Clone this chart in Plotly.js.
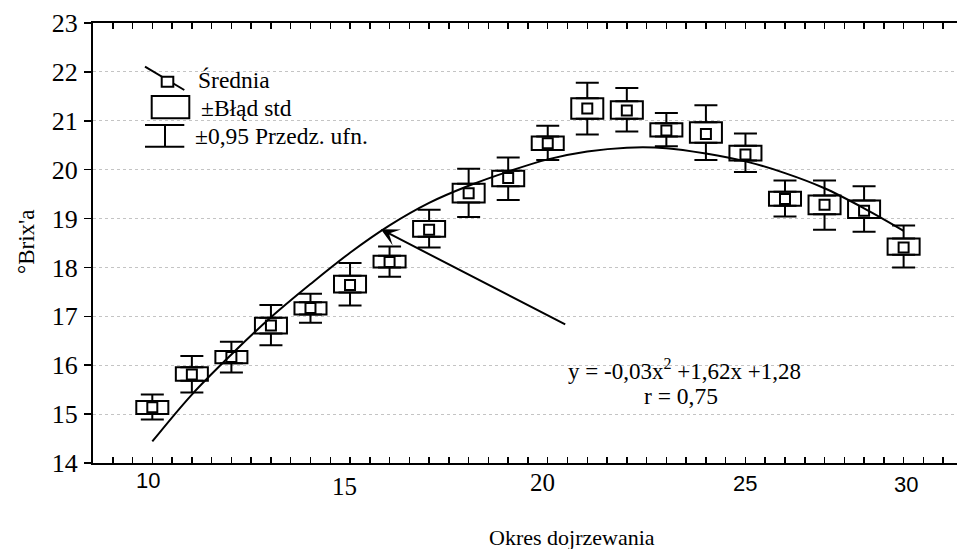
<!DOCTYPE html>
<html><head><meta charset="utf-8">
<script src="https://cdn.plot.ly/plotly-3.0.1.min.js"></script>
<style>body{margin:0;background:#fff}#chart{width:957px;height:549px}</style>
</head><body><div id="chart"></div>
<script>
// ---- data ----
const days    = [10,11,12,13,14,15,16,17,18,19,20,21,22,23,24,25,26,27,28,29];
const means   = [15.14,15.81,16.17,16.81,17.17,17.64,18.11,18.77,19.52,19.83,20.54,21.25,21.21,20.80,20.73,20.31,19.40,19.28,19.16,18.41];
const seUpper = [15.27,15.96,16.29,16.97,17.29,17.83,18.24,18.95,19.71,19.98,20.68,21.46,21.40,20.95,20.97,20.49,19.55,19.47,19.37,18.59];
const seLower = [15.00,15.68,16.04,16.65,17.04,17.49,18.00,18.63,19.33,19.66,20.40,21.04,21.04,20.68,20.55,20.19,19.26,19.09,19.01,18.26];
const ciUpper = [15.40,16.19,16.48,17.23,17.46,18.09,18.43,19.18,20.02,20.25,20.90,21.78,21.67,21.16,21.32,20.74,19.78,19.78,19.66,18.86];
const ciLower = [14.89,15.44,15.85,16.41,16.87,17.22,17.81,18.41,19.03,19.38,20.20,20.72,20.78,20.48,20.20,19.95,19.04,18.77,18.73,18.00];
const fitY    = [14.44,15.40,16.22,16.98,17.66,18.30,18.86,19.32,19.67,19.96,20.21,20.37,20.45,20.44,20.33,20.17,19.93,19.62,19.21,18.75];
const tickLabels = ['10','15','20','25','30'];
const legendLabels = ['Średnia','±Błąd std','±0,95 Przedz. ufn.'];
const equationText = 'y = -0,03x<sup>2</sup> +1,62x +1,28';
const rText = 'r = 0,75';
const xTitle = 'Okres dojrzewania';
const yTitle = '°Brix\'a';

// ---- layout helpers ----
const L = 93, T = 23, W = 864, H = 440;
const PX = p => (p - L) / W;
const PY = p => (T + H - p) / H;
const serif = 'Liberation Serif';
const sans = 'Liberation Sans';
const blk = '#000';

const boxH = seUpper.map((u, i) => u - seLower[i]);
const upArm = ciUpper.map((c, i) => c - seUpper[i]);
const loArm = seLower.map((s, i) => s - ciLower[i]);
const zeros = days.map(() => 0);

const traces = [
  {type:'bar', x:days, y:boxH, base:seLower, width:0.81,
   marker:{color:'#fff', line:{color:blk, width:2}}, hoverinfo:'skip', showlegend:false},
  {type:'scatter', mode:'markers', x:days, y:seUpper,
   marker:{size:1, color:'rgba(0,0,0,0)'},
   error_y:{type:'data', symmetric:false, array:upArm, arrayminus:zeros, color:blk, thickness:2, width:11.5},
   hoverinfo:'skip', showlegend:false},
  {type:'scatter', mode:'markers', x:days, y:seLower,
   marker:{size:1, color:'rgba(0,0,0,0)'},
   error_y:{type:'data', symmetric:false, array:zeros, arrayminus:loArm, color:blk, thickness:2, width:11.5},
   hoverinfo:'skip', showlegend:false},
  {type:'scatter', mode:'markers', x:days, y:means,
   marker:{symbol:'square-open', size:10, color:blk, line:{width:2, color:blk}},
   showlegend:false},
  {type:'scatter', mode:'lines', x:days, y:fitY,
   line:{color:blk, width:2, shape:'spline'}, hoverinfo:'skip', showlegend:false}
];

const tickPos = [9.9, 14.87, 19.88, 24.99, 29.06];
const tickPy  = [480, 486, 482.5, 483, 484];
const tickFont = [sans, serif, serif, sans, sans];
const tickSize = [22, 25, 25, 22, 22];

const annotations = [];
tickLabels.forEach((t, i) => annotations.push({
  xref:'x', yref:'paper', x:tickPos[i], y:PY(tickPy[i]), text:t, showarrow:false,
  xanchor:'center', yanchor:'middle', font:{family:tickFont[i], size:tickSize[i], color:blk}
}));
annotations.push(
  {xref:'paper', yref:'paper', x:PX(572), y:PY(537), text:xTitle, showarrow:false,
   xanchor:'center', yanchor:'middle', font:{family:serif, size:22, color:blk}},
  {xref:'paper', yref:'paper', x:PX(27), y:PY(242), text:yTitle, showarrow:false, textangle:-90,
   xanchor:'center', yanchor:'middle', font:{family:serif, size:23, color:blk}},
  {xref:'paper', yref:'paper', x:PX(684), y:PY(369), text:equationText, showarrow:false,
   xanchor:'center', yanchor:'middle', font:{family:serif, size:23, color:blk}},
  {xref:'paper', yref:'paper', x:PX(681), y:PY(396), text:rText, showarrow:false,
   xanchor:'center', yanchor:'middle', font:{family:serif, size:23.5, color:blk}},
  {xref:'x', yref:'y', x:15.78, y:18.78, axref:'x', ayref:'y', ax:20.48, ay:16.82,
   text:'', showarrow:true, arrowhead:3, arrowsize:1.5, arrowwidth:2, arrowcolor:blk, standoff:0},
  {xref:'paper', yref:'paper', x:PX(196), y:PY(80), text:legendLabels[0], showarrow:false,
   xanchor:'left', yanchor:'middle', font:{family:serif, size:23.5, color:blk}},
  {xref:'paper', yref:'paper', x:PX(199), y:PY(108), text:legendLabels[1], showarrow:false,
   xanchor:'left', yanchor:'middle', font:{family:serif, size:23.5, color:blk}},
  {xref:'paper', yref:'paper', x:PX(193), y:PY(136), text:legendLabels[2], showarrow:false,
   xanchor:'left', yanchor:'middle', font:{family:serif, size:23.5, color:blk}}
);

const ln = {color:blk, width:2};
const shapes = [
  {type:'line', xref:'paper', yref:'paper', x0:PX(145), y0:PY(66.7), x1:PX(184.3), y1:PY(90), line:ln},
  {type:'rect', xref:'paper', yref:'paper', x0:PX(161.7), y0:PY(76.7), x1:PX(173.3), y1:PY(86.7), line:ln, fillcolor:'#fff'},
  {type:'rect', xref:'paper', yref:'paper', x0:PX(151.7), y0:PY(96), x1:PX(189.3), y1:PY(118.3), line:ln, fillcolor:'#fff'},
  {type:'line', xref:'paper', yref:'paper', x0:PX(145), y0:PY(125), x1:PX(184.3), y1:PY(125), line:ln},
  {type:'line', xref:'paper', yref:'paper', x0:PX(145), y0:PY(146.7), x1:PX(184.3), y1:PY(146.7), line:ln},
  {type:'line', xref:'paper', yref:'paper', x0:PX(165), y0:PY(125), x1:PX(165), y1:PY(146.7), line:ln}
];

const layout = {
  width:957, height:549, margin:{l:L, r:0, t:T, b:549-T-H},
  paper_bgcolor:'#fff', plot_bgcolor:'#fff', showlegend:false, barmode:'overlay',
  xaxis:{range:[8.5, 30.35], showline:true, linewidth:2, linecolor:blk, mirror:'ticks',
         ticks:'inside', ticklen:6, tickwidth:1.5, tickcolor:blk, tick0:9, dtick:0.5,
         showticklabels:false, showgrid:false, zeroline:false},
  yaxis:{range:[14, 23], dtick:1, showline:true, linewidth:2, linecolor:blk, mirror:false,
         ticks:'outside', ticklen:7, tickwidth:1.5, tickcolor:blk, ticklabelstandoff:1,
         showgrid:true, gridcolor:'#c4c4c4', griddash:'dot', gridwidth:1, zeroline:false,
         tickfont:{family:serif, size:26, color:blk}},
  annotations, shapes
};
Plotly.newPlot('chart', traces, layout, {staticPlot:true});
</script></body></html>
